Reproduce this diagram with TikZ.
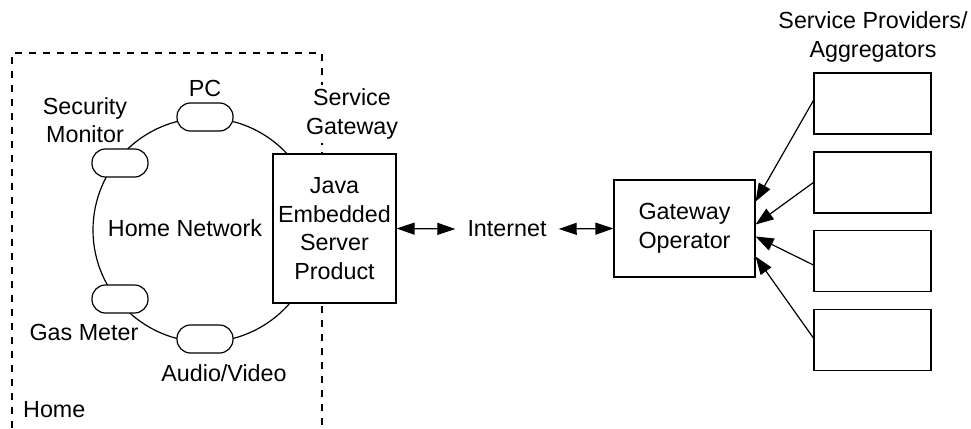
\documentclass[tikz,border=0pt]{standalone}
\usepackage{fontspec}
\setmainfont{Liberation Sans}
\usetikzlibrary{arrows.meta,calc}
\begin{document}
\begin{tikzpicture}[x=1pt,y=-1pt,
  every node/.style={font=\fontsize{23.3}{28.5}\selectfont, align=center, inner sep=0pt},
  line/.style={line width=1.2pt},
  pill/.style={draw, line width=1.2pt, fill=white, minimum width=56pt, minimum height=28pt, rounded corners=13.5pt},
  boxnode/.style={draw, line width=1.2pt, fill=white},
  tip/.style={-{Triangle[length=18pt,width=13pt]}},
  dtip/.style={{Triangle[length=18pt,width=12pt]}-{Triangle[length=18pt,width=12pt]}},
  homeline/.style={line width=1.2pt, dash pattern=on 7pt off 7pt}]
\useasboundingbox (0,0) rectangle (971,428);
% home area
\coordinate (hbl) at (12,428);
\coordinate (htl) at (12,53);
\coordinate (htr) at (322,53);
\coordinate (hbr) at (322,428);
\draw[homeline] (hbl) -- (htl) -- (htr) -- (hbr);
% network ring
\node[circle, draw, line width=1.2pt, minimum size=224pt] (ring) at (205,230) {};
\node (hn) at (185,228) {Home Network};
\node[pill] (pc) at (205,117) {};
\node[pill] (sm) at (120,163) {};
\node[pill] (gm) at (120,299) {};
\node[pill] (av) at (205,339) {};
\node (pcl) at (205,88) {PC};
\node (sml) at (85,120) {Security\\Monitor};
\node (gml) at (84,332) {Gas Meter};
\node (avl) at (224,373) {Audio/Video};
\node[anchor=west] (homel) at (23,410) {Home};
% gateway
\node[boxnode, minimum width=123pt, minimum height=149pt] (jes) at (334.5,228.5) {Java\\Embedded\\Server\\Product};
\node[fill=white, inner sep=4pt] (sgl) at (352,114) {Service\\Gateway};
\node[inner xsep=12pt] (inet) at (507,229) {Internet};
\node[boxnode, minimum width=141pt, minimum height=97pt] (gw) at (684.5,228.5) {Gateway\\Operator};
\draw[line, dtip] (jes.east) -- (inet.west);
\draw[line, dtip] (inet.east) -- (gw.west);
% providers
\node (spl) at (873,37) {Service Providers/\\Aggregators};
\node[boxnode, minimum width=117pt, minimum height=61pt] (sp1) at (872.5,103.5) {};
\node[boxnode, minimum width=117pt, minimum height=61pt] (sp2) at (872.5,182.5) {};
\node[boxnode, minimum width=117pt, minimum height=61pt] (sp3) at (872.5,261) {};
\node[boxnode, minimum width=117pt, minimum height=61pt] (sp4) at (872.5,340) {};
\draw[line, tip] ([yshift=3pt]sp1.west) -- ([yshift=27pt]gw.east);
\draw[line, tip] (sp2.west) -- ([yshift=4pt]gw.east);
\draw[line, tip] ([yshift=-4pt]sp3.west) -- ([yshift=-8pt]gw.east);
\draw[line, tip] ([yshift=2pt]sp4.west) -- ([yshift=-28pt]gw.east);
\end{tikzpicture}
\end{document}
